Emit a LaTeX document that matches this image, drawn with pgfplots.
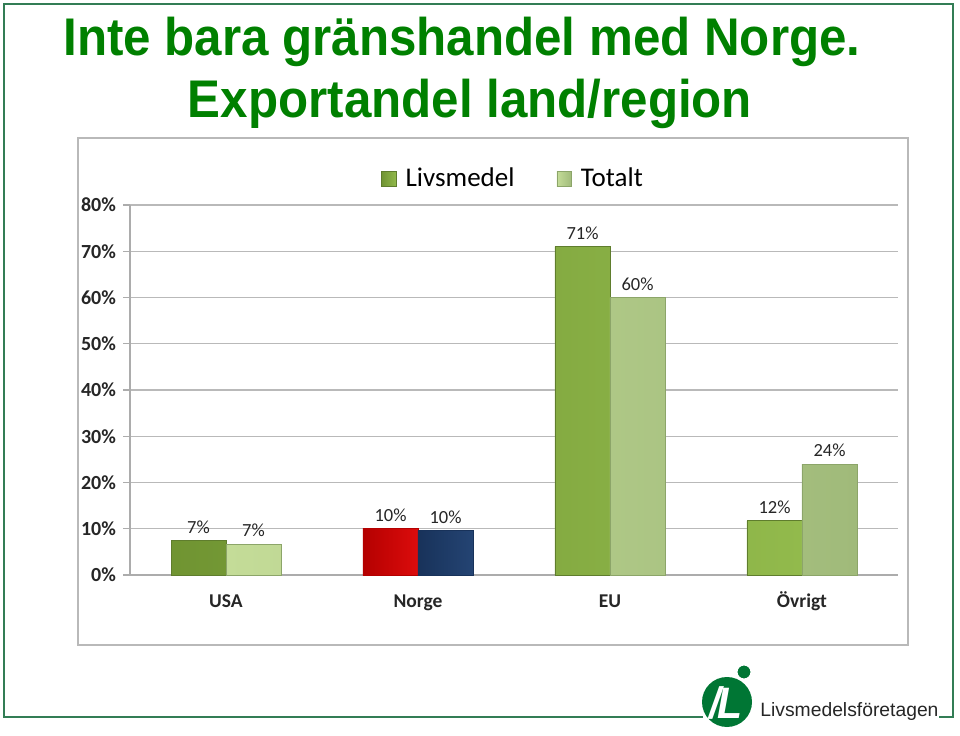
\documentclass[border=0pt]{standalone}
\usepackage{fontspec}
\setmainfont{Carlito}
\newfontfamily\titlefont{Liberation Sans}[FakeStretch=0.93]
\newfontfamily\logofont{Liberation Sans}
\usepackage{pgfplots}
\pgfplotsset{compat=1.18}

\definecolor{titlegreen}{RGB}{0,128,0}
\definecolor{framegreen}{RGB}{50,125,85}
\definecolor{livL}{RGB}{146,186,76}
\definecolor{livD}{RGB}{112,148,50}
\definecolor{livE}{RGB}{95,125,45}
\definecolor{totL}{RGB}{196,220,152}
\definecolor{totD}{RGB}{160,186,122}
\definecolor{totE}{RGB}{140,165,105}
\definecolor{redL}{RGB}{220,12,12}
\definecolor{redD}{RGB}{180,0,0}
\definecolor{navyL}{RGB}{36,68,115}
\definecolor{navyD}{RGB}{24,50,90}
\definecolor{logogreen}{RGB}{0,118,52}

\begin{document}
\begin{tikzpicture}
\begin{scope}[x=0.5pt,y=0.5pt]
\useasboundingbox (0,0) rectangle (960,735);

% slide frame
\draw[framegreen, line width=0.8pt] (703,18) -- (4,18) -- (4,731) -- (953,731) -- (953,18) -- (939,18);

% title
\node[anchor=base, text=titlegreen, font=\titlefont\bfseries\fontsize{26.5pt}{30pt}\selectfont, inner sep=0pt] at (462,679) {Inte bara gränshandel med Norge.};
\node[anchor=base, text=titlegreen, font=\titlefont\bfseries\fontsize{26.5pt}{30pt}\selectfont, inner sep=0pt] at (470,617) {Exportandel land/region};

% chart area box
\draw[gray!55, line width=0.8pt] (78,90) rectangle (908,597);
\end{scope}

\begin{axis}[
    at={(65pt,80pt)}, anchor=south west,
    scale only axis, width=384pt, height=185pt,
    xmin=-0.5, xmax=3.5, ymin=0, ymax=80,
    axis x line*=bottom, axis y line*=left,
    axis line style={gray!65, line width=0.6pt},
    ytick={0,10,...,80},
    yticklabels={0\%,10\%,20\%,30\%,40\%,50\%,60\%,70\%,80\%},
    yticklabel style={font=\bfseries\fontsize{10pt}{12pt}\selectfont, text=black!85},
    ymajorgrids, grid style={gray!55, line width=0.6pt},
    tick align=outside, major tick length=3.5pt,
    tick style={gray!65, line width=0.6pt},
    xtick={0,1,2,3},
    xticklabels={USA,Norge,EU,Övrigt},
    xticklabel style={font=\bfseries\fontsize{9.75pt}{12pt}\selectfont, text=black!85,
        text height=7pt, text depth=2pt, yshift=-2pt},
    x tick style={draw=none},
    extra x ticks={-0.5,0.5,1.5,2.5,3.5},
    extra x tick labels={},
    extra x tick style={grid=none, tick style={draw=gray!65}},
    ybar, bar width=27.5pt,
    nodes near coords, point meta=explicit symbolic,
    every node near coord/.append style={font=\fontsize{9.25pt}{11pt}\selectfont, text=black!85},
    legend style={at={(0.5,1.07)}, anchor=center, draw=none, fill=none,
        legend columns=2, font=\fontsize{13.5pt}{16pt}\selectfont,
        /tikz/every even column/.append style={column sep=19pt}},
    legend image code/.code={\draw (0pt,-3.7pt) rectangle (7.4pt,3.7pt);
        \path[draw=none] (0pt,0pt) -- (10pt,0pt);},
    clip=false,
]
\addplot[bar shift=-13.75pt, draw=livE, left color=livD, right color=livL]
    coordinates {(0,7.5)[7\%] (2,71)[71\%] (3,11.7)[12\%]};
\addlegendentry{Livsmedel}
\addplot[bar shift=13.75pt, draw=totE, left color=totL, right color=totD]
    coordinates {(0,6.7)[7\%] (2,60)[60\%] (3,24)[24\%]};
\addlegendentry{Totalt}
\addplot[bar shift=-13.75pt, draw=redD, left color=redD, right color=redL, forget plot]
    coordinates {(1,10)[10\%]};
\addplot[bar shift=13.75pt, draw=navyD, left color=navyD, right color=navyL, forget plot]
    coordinates {(1,9.6)[10\%]};
\end{axis}

\begin{scope}[x=0.5pt,y=0.5pt]
% logo
\fill[logogreen] (727,33) circle (25);
\node[text=white, font=\titlefont\bfseries\itshape\fontsize{22pt}{24pt}\selectfont, inner sep=0pt] at (726,32) {/\kern-2pt L};
\filldraw[fill=logogreen, draw=white, line width=1pt] (744,63) circle (7.5);
\node[anchor=base west, inner sep=0pt, text=black!85, font=\logofont\fontsize{9.65pt}{11pt}\selectfont] at (760,19) {Livsmedelsföretagen};
\end{scope}
\end{tikzpicture}
\end{document}
